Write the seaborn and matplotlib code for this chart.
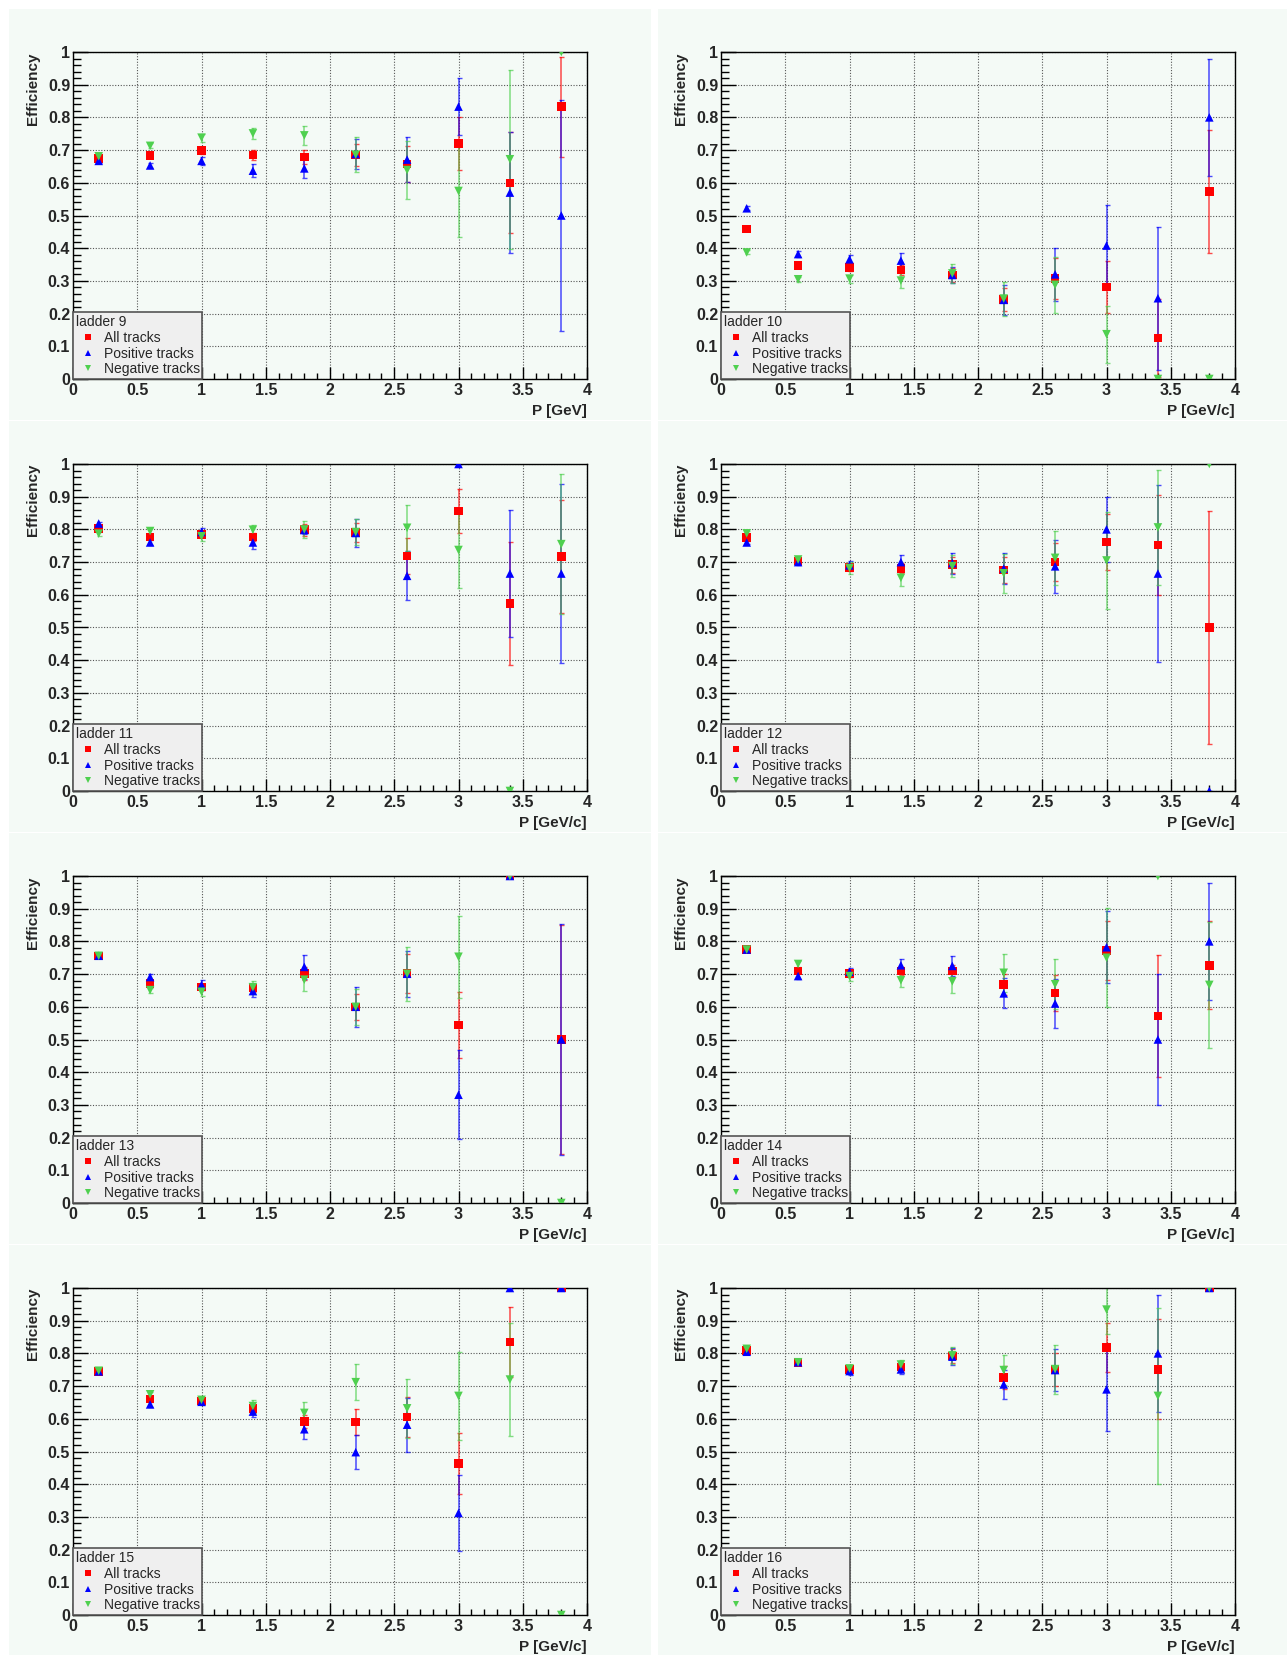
import numpy as np
import pandas as pd
import matplotlib
matplotlib.use("Agg")
import matplotlib.pyplot as plt
from matplotlib.patches import Rectangle
from matplotlib.ticker import MultipleLocator
import seaborn as sns

# momentum bins (GeV/c) and ladders
p_bins = [0.2, 0.6, 1.0, 1.4, 1.8, 2.2, 2.6, 3.0, 3.4, 3.8]
ladders = [9, 10, 11, 12, 13, 14, 15, 16]
x_titles = ["P [GeV]"] + ["P [GeV/c]"] * 7

# efficiency per ladder, all tracks
all_eff = [
    [0.675, 0.683, 0.698, 0.685, 0.679, 0.685, 0.657, 0.720, 0.600, 0.833],
    [0.459, 0.347, 0.341, 0.334, 0.318, 0.243, 0.308, 0.282, 0.126, 0.573],
    [0.803, 0.777, 0.784, 0.777, 0.799, 0.790, 0.719, 0.856, 0.573, 0.717],
    [0.775, 0.704, 0.684, 0.681, 0.692, 0.676, 0.700, 0.761, 0.752, 0.500],
    [0.756, 0.671, 0.660, 0.657, 0.702, 0.600, 0.701, 0.544, 1.000, 0.500],
    [0.775, 0.710, 0.702, 0.710, 0.710, 0.669, 0.642, 0.773, 0.572, 0.727],
    [0.745, 0.661, 0.654, 0.631, 0.592, 0.590, 0.606, 0.464, 0.835, 1.000],
    [0.809, 0.773, 0.751, 0.759, 0.792, 0.726, 0.751, 0.818, 0.751, 1.000],
]
all_err = [
    [0.005, 0.006, 0.010, 0.015, 0.022, 0.035, 0.055, 0.080, 0.155, 0.153],
    [0.005, 0.006, 0.010, 0.015, 0.020, 0.034, 0.062, 0.080, 0.120, 0.187],
    [0.005, 0.006, 0.008, 0.012, 0.018, 0.030, 0.054, 0.068, 0.188, 0.172],
    [0.005, 0.006, 0.010, 0.015, 0.025, 0.040, 0.059, 0.086, 0.152, 0.355],
    [0.005, 0.006, 0.010, 0.012, 0.020, 0.040, 0.059, 0.101, 0.000, 0.350],
    [0.005, 0.006, 0.010, 0.013, 0.018, 0.032, 0.055, 0.090, 0.187, 0.134],
    [0.005, 0.006, 0.008, 0.012, 0.020, 0.040, 0.062, 0.094, 0.107, 0.000],
    [0.005, 0.006, 0.008, 0.012, 0.020, 0.035, 0.050, 0.074, 0.153, 0.000],
]
# positive tracks
pos_eff = [
    [0.667, 0.653, 0.667, 0.637, 0.644, 0.688, 0.671, 0.833, 0.570, 0.500],
    [0.522, 0.382, 0.366, 0.362, 0.318, 0.242, 0.320, 0.408, 0.247, 0.800],
    [0.818, 0.760, 0.792, 0.760, 0.798, 0.789, 0.658, 1.000, 0.665, 0.665],
    [0.760, 0.700, 0.690, 0.700, 0.697, 0.680, 0.687, 0.800, 0.665, 0.000],
    [0.756, 0.691, 0.667, 0.648, 0.722, 0.600, 0.701, 0.331, 1.000, 0.500],
    [0.775, 0.694, 0.707, 0.727, 0.725, 0.641, 0.610, 0.782, 0.500, 0.800],
    [0.745, 0.644, 0.652, 0.622, 0.568, 0.498, 0.582, 0.312, 1.000, 1.000],
    [0.805, 0.773, 0.746, 0.751, 0.790, 0.705, 0.749, 0.690, 0.800, 1.000],
]
pos_err = [
    [0.006, 0.008, 0.013, 0.019, 0.029, 0.045, 0.070, 0.088, 0.186, 0.353],
    [0.006, 0.008, 0.012, 0.023, 0.025, 0.045, 0.080, 0.125, 0.218, 0.180],
    [0.006, 0.008, 0.012, 0.019, 0.012, 0.044, 0.075, 0.000, 0.193, 0.273],
    [0.006, 0.008, 0.012, 0.022, 0.032, 0.048, 0.080, 0.100, 0.272, 0.000],
    [0.006, 0.008, 0.015, 0.019, 0.036, 0.061, 0.070, 0.136, 0.000, 0.354],
    [0.006, 0.008, 0.012, 0.020, 0.030, 0.046, 0.075, 0.110, 0.200, 0.180],
    [0.006, 0.008, 0.010, 0.017, 0.031, 0.053, 0.082, 0.116, 0.000, 0.000],
    [0.006, 0.008, 0.012, 0.015, 0.025, 0.045, 0.063, 0.128, 0.180, 0.000],
]
# negative tracks
neg_eff = [
    [0.681, 0.713, 0.738, 0.751, 0.745, 0.686, 0.639, 0.575, 0.672, 1.000],
    [0.387, 0.305, 0.307, 0.301, 0.323, 0.246, 0.288, 0.137, 0.000, 0.000],
    [0.787, 0.795, 0.779, 0.799, 0.800, 0.792, 0.805, 0.737, 0.000, 0.755],
    [0.788, 0.708, 0.682, 0.652, 0.688, 0.666, 0.713, 0.705, 0.806, 1.000],
    [0.756, 0.651, 0.646, 0.660, 0.683, 0.600, 0.701, 0.753, 1.000, 0.000],
    [0.775, 0.731, 0.694, 0.681, 0.678, 0.704, 0.669, 0.750, 1.000, 0.667],
    [0.747, 0.675, 0.658, 0.639, 0.618, 0.712, 0.632, 0.670, 0.720, 0.000],
    [0.814, 0.773, 0.754, 0.766, 0.794, 0.749, 0.752, 0.934, 0.670, 1.000],
]
neg_err = [
    [0.006, 0.008, 0.012, 0.018, 0.030, 0.053, 0.088, 0.140, 0.274, 0.000],
    [0.006, 0.008, 0.012, 0.023, 0.030, 0.052, 0.086, 0.087, 0.000, 0.000],
    [0.006, 0.008, 0.013, 0.013, 0.027, 0.040, 0.070, 0.117, 0.000, 0.214],
    [0.006, 0.008, 0.017, 0.026, 0.034, 0.060, 0.082, 0.147, 0.177, 0.000],
    [0.006, 0.008, 0.013, 0.020, 0.035, 0.055, 0.083, 0.125, 0.000, 0.000],
    [0.006, 0.008, 0.015, 0.020, 0.035, 0.058, 0.076, 0.152, 0.000, 0.192],
    [0.006, 0.008, 0.010, 0.020, 0.033, 0.055, 0.090, 0.135, 0.173, 0.000],
    [0.006, 0.008, 0.010, 0.015, 0.025, 0.046, 0.075, 0.075, 0.270, 0.000],
]

series = ["All tracks", "Positive tracks", "Negative tracks"]
colors = {"All tracks": "#ff0000", "Positive tracks": "#0000ff", "Negative tracks": "#4fd04f"}
markers = {"All tracks": "s", "Positive tracks": "^", "Negative tracks": "v"}
PAD = "#f4faf6"

sns.set_theme(style="ticks")
plt.rcParams["font.family"] = ["Liberation Sans", "DejaVu Sans"]

W, H = 1287, 1655
fig = plt.figure(figsize=(W / 100, H / 100), dpi=100)
fig.patch.set_facecolor("white")


def frac(x0, y0, x1, y1):
    return [x0 / W, 1 - y1 / H, (x1 - x0) / W, (y1 - y0) / H]


for i, lad in enumerate(ladders):
    r, c = divmod(i, 2)
    # pad background
    px0 = 9 if c == 0 else 658
    px1 = 651 if c == 0 else W
    py0, py1 = 9 + 412 * r, 420 + 412 * r
    fig.add_artist(Rectangle((px0 / W, 1 - py1 / H), (px1 - px0) / W, (py1 - py0) / H,
                             transform=fig.transFigure, facecolor=PAD, edgecolor="none", zorder=0))

    ax = fig.add_axes(frac(73 + 648 * c, 52 + 412 * r, 587 + 648 * c, 379 + 412 * r))
    ax.set_facecolor(PAD)

    df = pd.DataFrame({
        "P": p_bins * 3,
        "eff": all_eff[i] + pos_eff[i] + neg_eff[i],
        "err": all_err[i] + pos_err[i] + neg_err[i],
        "series": [s for s in series for _ in p_bins],
    })

    for s in series:
        d = df[df["series"] == s]
        ax.errorbar(d["P"], d["eff"], yerr=d["err"], fmt="none", ecolor=colors[s],
                    elinewidth=1.1, capsize=1.8, capthick=1.0, alpha=0.7, zorder=2)

    sns.scatterplot(data=df, x="P", y="eff", hue="series", style="series",
                    palette=colors, markers=markers, hue_order=series, style_order=series,
                    s=38, linewidth=0, ax=ax, zorder=3)

    ax.set_xlim(0, 4)
    ax.set_ylim(0, 1)
    xt = np.arange(0, 4.01, 0.5)
    yt = np.arange(0, 1.01, 0.1)
    ax.set_xticks(xt, labels=[f"{v:g}" for v in xt], fontsize=11.5, fontweight="bold")
    ax.set_yticks(yt, labels=[f"{v:g}" for v in np.round(yt, 1)], fontsize=11.5, fontweight="bold")
    ax.xaxis.set_minor_locator(MultipleLocator(0.1))
    ax.yaxis.set_minor_locator(MultipleLocator(0.02))
    ax.tick_params(axis="x", which="major", direction="in", length=9, width=1, pad=3, color="black")
    ax.tick_params(axis="x", which="minor", direction="in", length=4.5, width=1, color="black")
    ax.tick_params(axis="y", which="major", direction="in", length=10.5, width=1, pad=2, color="black")
    ax.tick_params(axis="y", which="minor", direction="in", length=5.5, width=1, color="black")
    ax.grid(True, which="major", linestyle=(0, (1, 1.5)), color="#555555", linewidth=0.8)
    ax.set_axisbelow(True)
    for sp in ax.spines.values():
        sp.set_color("black")
        sp.set_linewidth(1.0)

    ax.set_xlabel(x_titles[i], loc="right", fontsize=11, fontweight="bold")
    ax.xaxis.set_label_coords(1.0, -0.075)
    ax.set_ylabel("Efficiency", loc="top", fontsize=11, fontweight="bold")
    ax.yaxis.set_label_coords(-0.065, 1.0)

    sns.move_legend(ax, "lower left", bbox_to_anchor=(0, 0), borderaxespad=0,
                    title=f"ladder {lad}", title_fontsize=10, fontsize=10,
                    frameon=True, fancybox=False, framealpha=1, facecolor="#efefef",
                    edgecolor="#555555", borderpad=0.2, handlelength=1.7,
                    handletextpad=0.3, labelspacing=0.12, alignment="left", markerscale=0.8)
    ax.get_legend().get_frame().set_linewidth(1.2)

fig.savefig("out.png", dpi=100)
